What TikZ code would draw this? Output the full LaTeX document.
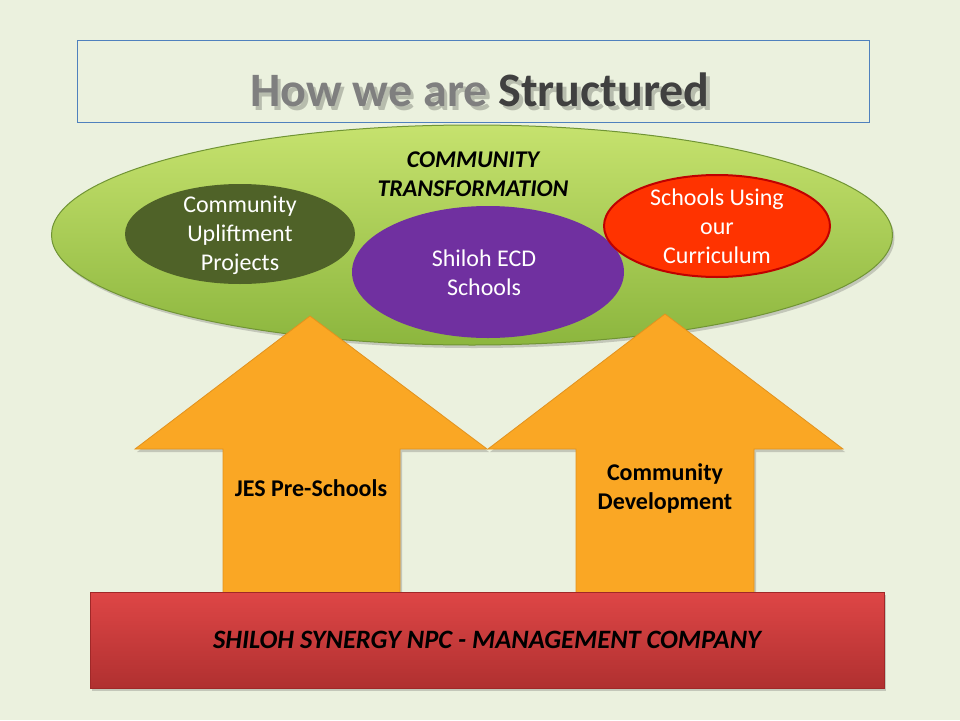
\documentclass[tikz,border=0pt]{standalone}
\usepackage{fontspec}
\setmainfont{Carlito}
\usetikzlibrary{shapes.geometric,shadows}
\definecolor{bg}{RGB}{235,241,222}
\definecolor{titleblue}{RGB}{79,129,189}
\definecolor{titlegray}{RGB}{127,127,127}
\definecolor{titledark}{RGB}{64,64,64}
\definecolor{greentop}{RGB}{198,226,110}
\definecolor{greenbot}{RGB}{140,182,62}
\definecolor{greenedge}{RGB}{112,148,52}
\definecolor{olive}{RGB}{79,98,40}
\definecolor{purp}{RGB}{112,48,160}
\definecolor{redfill}{RGB}{255,51,0}
\definecolor{rededge}{RGB}{192,0,0}
\definecolor{arrowfill}{RGB}{250,167,36}
\definecolor{arrowedge}{RGB}{226,146,30}
\definecolor{bartop}{RGB}{222,70,70}
\definecolor{barbot}{RGB}{176,48,48}
\definecolor{baredge}{RGB}{160,40,40}
\tikzset{
  shd/.style={drop shadow={shadow xshift=2pt,shadow yshift=-3pt,opacity=0.25,fill=black!70}},
  oval/.style={ellipse,inner sep=0pt},
  lbl/.style={font=\fontsize{24}{29}\selectfont,align=center,inner sep=0pt},
  arrowshape/.style={fill=arrowfill,draw=arrowedge,line width=0.8pt,line join=miter,shd},
}
\begin{document}
\begin{tikzpicture}[x=1pt,y=-1pt]
\fill[bg] (0,0) rectangle (960,720);
\useasboundingbox (0,0) rectangle (960,720);

% title
\node[draw=titleblue,line width=0.8pt,minimum width=792pt,minimum height=82pt,inner sep=0pt] (titlebox) at (473,81) {};
\node[inner sep=0pt,font=\fontsize{48}{52}\selectfont\bfseries,text=black,opacity=0.22] (titleshadow) at (483.5,93.5) {How we are Structured};
\node[inner sep=0pt,font=\fontsize{48}{52}\selectfont\bfseries] (title) at (480,90) {\textcolor{titlegray}{How we are} \textcolor{titledark}{Structured}};

% big ellipse
\node[oval,minimum width=841pt,minimum height=220pt,top color=greentop,bottom color=greenbot,draw=greenedge,line width=1pt,shd] (big) at (472,235) {};
\node[lbl,font=\fontsize{24}{29}\selectfont\bfseries\itshape] (ct) at (473,174.5) {COMMUNITY\\TRANSFORMATION};

\node[oval,minimum width=230pt,minimum height=100pt,fill=olive] (cup) at (240,234) {};
\node[lbl,text=white] (cuptext) at (240,235) {Community\\Upliftment\\Projects};

\node[oval,minimum width=272pt,minimum height=132pt,fill=purp] (ecd) at (488,272) {};
\node[lbl,text=white] (ecdtext) at (484,272.5) {Shiloh ECD\\Schools};

\node[oval,minimum width=226pt,minimum height=102pt,fill=redfill,draw=rededge,line width=2pt] (cur) at (717,226) {};
\node[lbl,text=white] (curtext) at (717,226) {Schools Using\\our\\Curriculum};

% arrows
\path[arrowshape] (310,316) -- (487,449) -- (400,449) -- (400,593) -- (223,593) -- (223,449) -- (135,449) -- cycle;
\path[arrowshape] (665,314) -- (843,449) -- (754,449) -- (754,593) -- (576,593) -- (576,449) -- (488,449) -- cycle;
\node[lbl,font=\fontsize{24}{29}\selectfont\bfseries] (jes) at (311,488) {JES Pre-Schools};
\node[lbl,font=\fontsize{24}{29}\selectfont\bfseries] (cd) at (665,488) {Community\\Development};

% bottom bar
\node[minimum width=794pt,minimum height=96pt,inner sep=0pt,top color=bartop,bottom color=barbot,draw=baredge,line width=0.8pt,shd] (bar) at (487,640) {};
\node[lbl,font=\fontsize{26.5}{30}\selectfont\bfseries\itshape] (bartext) at (487,640) {SHILOH SYNERGY NPC - MANAGEMENT COMPANY};
\end{tikzpicture}
\end{document}
